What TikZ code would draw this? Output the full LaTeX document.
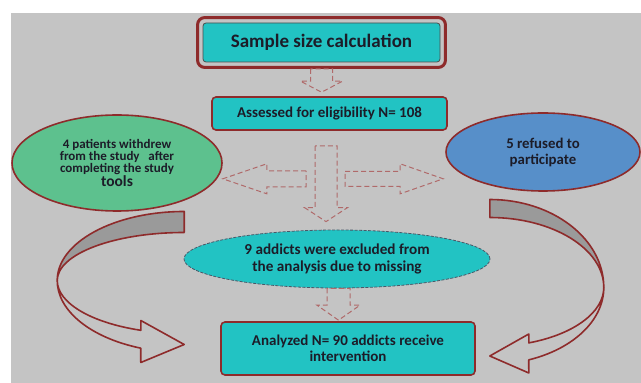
\documentclass[tikz,border=0pt]{standalone}
\usepackage{fontspec}
\setmainfont{Carlito}
\usetikzlibrary{calc, fit, shapes.geometric}
\definecolor{bgray}{HTML}{C4C4C4}
\definecolor{darkred}{HTML}{8E2B2B}
\definecolor{boxcyan}{HTML}{22C3C3}
\definecolor{leafgreen}{HTML}{5DC18E}
\definecolor{skyblue}{HTML}{578FC9}
\definecolor{dashred}{HTML}{B06A6A}
\definecolor{bandgray}{HTML}{9A9A9A}
\definecolor{inktext}{HTML}{1C1C28}
\definecolor{slate}{HTML}{4A5868}
\tikzset{%
	box/.style={draw=darkred, line width=1.6pt, rounded corners=4pt, fill=boxcyan,%
		text=inktext, align=center, inner sep=0pt, font=\bfseries\fontsize{15}{16.5}\selectfont},
	topbox/.style={draw=gray!60!black, line width=0.8pt, rounded corners=3pt, fill=boxcyan,%
		text=inktext, inner sep=0pt, font=\bfseries\fontsize{19}{21}\selectfont},
	outerframe/.style={draw=darkred, line width=3pt, rounded corners=7pt, inner sep=5pt},
	oval/.style={ellipse, draw=darkred, line width=1.6pt, inner sep=0pt, align=center, text=inktext},
	dashoval/.style={ellipse, draw=slate, line width=0.8pt, dash pattern=on 3pt off 1.5pt,%
		fill=boxcyan, inner sep=0pt, align=center, text=inktext, font=\bfseries\fontsize{15.2}{17}\selectfont},
	blockarrow/.style={draw=dashred, line width=1pt, dash pattern=on 5pt off 3pt},
	band/.style={draw=darkred, line width=1.6pt, line join=round}
}
% #1 top, #2 tip, #3 shaft half width, #4 head half width, #5 head length
\newcommand{\vdrop}[5]{%
	\draw[blockarrow] let \p1=(#1), \p2=(#2) in
		({\x2-#3pt},\y1) -- ({\x2-#3pt},{\y2+#5pt}) -- ({\x2-#4pt},{\y2+#5pt}) -- (\p2)
		-- ({\x2+#4pt},{\y2+#5pt}) -- ({\x2+#3pt},{\y2+#5pt}) -- ({\x2+#3pt},\y1) -- cycle;}
\newcommand{\hdrop}[5]{%
	\draw[blockarrow] let \p1=(#1), \p2=(#2) in
		(\x1,{\y2+#3pt}) -- ({\x2+(#5pt)},{\y2+#3pt}) -- ({\x2+(#5pt)},{\y2+#4pt}) -- (\p2)
		-- ({\x2+(#5pt)},{\y2-#4pt}) -- ({\x2+(#5pt)},{\y2-#3pt}) -- (\x1,{\y2-#3pt}) -- cycle;}

\begin{document}
\begin{tikzpicture}[x=1pt, y=1pt]
	\useasboundingbox (0,0) rectangle (641,383);
	\fill[bgray] (11,0) rectangle (641,370);

	\node[topbox, minimum width=237, minimum height=39] (calc) at (321.5,340.5) {Sample size calculation};
	\node[outerframe, fit=(calc)] (calc-frame) {};
	\node[box, minimum width=235, minimum height=33] (assess) at (329.5,269.5) {Assessed for eligibility N= 108};
	\node[oval, fill=leafgreen, minimum width=210, minimum height=96] (withdrew) at (117,220)
		{\fontsize{13}{13.5}\selectfont\bfseries 4 patients withdrew\\
		 \fontsize{13}{13.5}\selectfont\bfseries from the study\ \ \ after\\
		 \fontsize{13}{13.5}\selectfont\bfseries completing the study\\
		 \fontsize{15.5}{14}\selectfont\bfseries tools};
	\node[oval, fill=skyblue, minimum width=194, minimum height=78, font=\bfseries\fontsize{14.8}{16}\selectfont]
		(refused) at (543,231) {5 refused to\\participate};
	\node[dashoval, minimum width=306, minimum height=58] (excluded) at (337,124)
		{9 addicts were excluded from\\the analysis due to missing};
	\node[box, minimum width=254, minimum height=53] (final) at (348,34.5)
		{Analyzed N= 90 addicts receive\\intervention};

	\coordinate (split) at ($(assess.south)+(-3.5,-48)$);
	\vdrop{calc-frame.south}{$(assess.north -| calc.south)+(0,4)$}{11}{21}{11}
	\vdrop{$(assess.south)+(0,-15)$}{$(excluded.north)+(-11,8)$}{11}{21.5}{14}
	\hdrop{$(split)+(-20,0)$}{$(withdrew.east |- split)$}{8}{15}{44}
	\hdrop{$(split)+(19,0)$}{$(refused.west |- split)+(-2,0)$}{7.5}{15}{-43}
	\vdrop{excluded.south}{$(final.north -| excluded.south)+(1.5,1)$}{11.5}{21.5}{15}

	\coordinate (lc) at ($(final.west)+(-36,68)$);
	\filldraw[band, fill=bandgray] ($(lc)+(0,69)$) arc[start angle=90, end angle=180, x radius=127, y radius=69]
		arc[start angle=180, end angle=90, x radius=127, y radius=48] -- cycle;
	\draw[band] ($(lc)+(-127,0)$) arc[start angle=180, end angle=250, x radius=127, y radius=72]
		-- ($(lc)+(-43.4,-82)$) -- ($(lc)+(0,-64)$) -- ($(lc)+(-43.4,-40)$) -- ($(lc)+(-43.4,-49.8)$)
		arc[start angle=250, end angle=180, x radius=127, y radius=53];

	\coordinate (rc) at ($(final.east)+(14,61)$);
	\filldraw[band, fill=bandgray] ($(rc)+(0,88)$) arc[start angle=90, end angle=0, x radius=114, y radius=88]
		arc[start angle=0, end angle=90, x radius=114, y radius=70] -- cycle;
	\draw[band] ($(rc)+(114,0)$) arc[start angle=0, end angle=-70, x radius=114, y radius=77]
		-- ($(rc)+(39,-85.5)$) -- ($(rc)+(0,-68.5)$) -- ($(rc)+(39,-46.5)$) -- ($(rc)+(39,-55.4)$)
		arc[start angle=-70, end angle=0, x radius=114, y radius=59];
\end{tikzpicture}
\end{document}
